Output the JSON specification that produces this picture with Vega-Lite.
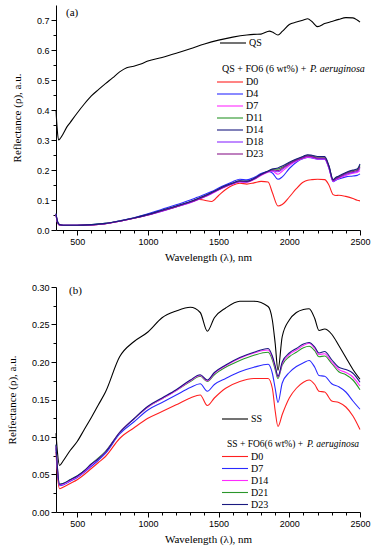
{
"$schema": "https://vega.github.io/schema/vega-lite/v6.json",
"padding": {"left": 6, "top": 5, "right": 4, "bottom": 4},
"config": {
 "view": {"stroke": null},
 "axis": {"domainColor": "black", "tickColor": "black", "labelColor": "black", "titleColor": "black", "labelFont": "Liberation Sans", "labelFontSize": 9, "titleFont": "Liberation Serif", "titleFontSize": 11, "titleFontWeight": "normal", "grid": false, "tickSize": 5, "labelPadding": 2, "labelFlush": false, "labelOverlap": false},
 "legend": {"labelFont": "Liberation Serif", "labelFontSize": 10, "titleFont": "Liberation Serif", "titleFontSize": 10, "titleFontWeight": "normal", "labelColor": "black", "titleColor": "black", "padding": 0, "symbolType": "M-3.25,0H3.25", "symbolSize": 64, "symbolStrokeWidth": 1.5, "symbolOffset": 3, "labelOffset": 11, "rowPadding": 2, "titlePadding": 3, "titleLimit": 300},
 "line": {"strokeWidth": 1.1, "interpolate": "monotone"},
 "concat": {"spacing": 21}
},
"resolve": {"scale": {"color": "independent", "stroke": "independent", "opacity": "independent"}, "legend": {"color": "independent", "stroke": "independent", "opacity": "independent"}},
"datasets": {
"qs": [
{"w":350,"k":"QS","r":0.40},{"w":358,"k":"QS","r":0.34},{"w":368,"k":"QS","r":0.30},{"w":380,"k":"QS","r":0.305},{"w":400,"k":"QS","r":0.32},{"w":425,"k":"QS","r":0.342},{"w":450,"k":"QS","r":0.358},{"w":500,"k":"QS","r":0.39},{"w":550,"k":"QS","r":0.42},{"w":600,"k":"QS","r":0.447},{"w":650,"k":"QS","r":0.468},{"w":700,"k":"QS","r":0.488},{"w":750,"k":"QS","r":0.507},{"w":800,"k":"QS","r":0.527},{"w":850,"k":"QS","r":0.541},{"w":900,"k":"QS","r":0.546},{"w":950,"k":"QS","r":0.553},{"w":1000,"k":"QS","r":0.563},{"w":1100,"k":"QS","r":0.575},{"w":1200,"k":"QS","r":0.589},{"w":1300,"k":"QS","r":0.604},{"w":1400,"k":"QS","r":0.620},{"w":1500,"k":"QS","r":0.633},{"w":1600,"k":"QS","r":0.643},{"w":1700,"k":"QS","r":0.650},{"w":1750,"k":"QS","r":0.652},{"w":1800,"k":"QS","r":0.653},{"w":1860,"k":"QS","r":0.663},{"w":1880,"k":"QS","r":0.660},{"w":1920,"k":"QS","r":0.650},{"w":1950,"k":"QS","r":0.662},{"w":2000,"k":"QS","r":0.685},{"w":2050,"k":"QS","r":0.693},{"w":2100,"k":"QS","r":0.700},{"w":2130,"k":"QS","r":0.704},{"w":2160,"k":"QS","r":0.695},{"w":2200,"k":"QS","r":0.678},{"w":2250,"k":"QS","r":0.688},{"w":2300,"k":"QS","r":0.695},{"w":2350,"k":"QS","r":0.702},{"w":2400,"k":"QS","r":0.708},{"w":2450,"k":"QS","r":0.707},{"w":2480,"k":"QS","r":0.700},{"w":2500,"k":"QS","r":0.693}
],
"qa": [
{"w":350,"s":"D0","r":0.050},{"w":360,"s":"D0","r":0.025},{"w":375,"s":"D0","r":0.016},{"w":400,"s":"D0","r":0.015},{"w":500,"s":"D0","r":0.015},{"w":600,"s":"D0","r":0.017},{"w":700,"s":"D0","r":0.021},{"w":800,"s":"D0","r":0.029},{"w":900,"s":"D0","r":0.039},{"w":1000,"s":"D0","r":0.051},{"w":1100,"s":"D0","r":0.064},{"w":1200,"s":"D0","r":0.078},{"w":1300,"s":"D0","r":0.093},{"w":1350,"s":"D0","r":0.103},{"w":1400,"s":"D0","r":0.099},{"w":1450,"s":"D0","r":0.095},{"w":1500,"s":"D0","r":0.115},{"w":1550,"s":"D0","r":0.135},{"w":1600,"s":"D0","r":0.149},{"w":1650,"s":"D0","r":0.156},{"w":1700,"s":"D0","r":0.153},{"w":1750,"s":"D0","r":0.157},{"w":1800,"s":"D0","r":0.162},{"w":1850,"s":"D0","r":0.160},{"w":1880,"s":"D0","r":0.125},{"w":1920,"s":"D0","r":0.080},{"w":1950,"s":"D0","r":0.085},{"w":2000,"s":"D0","r":0.110},{"w":2050,"s":"D0","r":0.138},{"w":2100,"s":"D0","r":0.160},{"w":2130,"s":"D0","r":0.166},{"w":2160,"s":"D0","r":0.168},{"w":2200,"s":"D0","r":0.169},{"w":2250,"s":"D0","r":0.168},{"w":2280,"s":"D0","r":0.150},{"w":2310,"s":"D0","r":0.118},{"w":2330,"s":"D0","r":0.115},{"w":2350,"s":"D0","r":0.116},{"w":2400,"s":"D0","r":0.112},{"w":2450,"s":"D0","r":0.105},{"w":2480,"s":"D0","r":0.099},{"w":2500,"s":"D0","r":0.097},
{"w":350,"s":"D4","r":0.050},{"w":360,"s":"D4","r":0.026},{"w":375,"s":"D4","r":0.017},{"w":400,"s":"D4","r":0.016},{"w":500,"s":"D4","r":0.016},{"w":600,"s":"D4","r":0.018},{"w":700,"s":"D4","r":0.022},{"w":800,"s":"D4","r":0.031},{"w":900,"s":"D4","r":0.041},{"w":1000,"s":"D4","r":0.054},{"w":1100,"s":"D4","r":0.069},{"w":1200,"s":"D4","r":0.084},{"w":1300,"s":"D4","r":0.100},{"w":1350,"s":"D4","r":0.109},{"w":1400,"s":"D4","r":0.118},{"w":1450,"s":"D4","r":0.128},{"w":1500,"s":"D4","r":0.140},{"w":1550,"s":"D4","r":0.151},{"w":1600,"s":"D4","r":0.161},{"w":1650,"s":"D4","r":0.169},{"w":1700,"s":"D4","r":0.167},{"w":1750,"s":"D4","r":0.175},{"w":1800,"s":"D4","r":0.188},{"w":1850,"s":"D4","r":0.195},{"w":1880,"s":"D4","r":0.190},{"w":1920,"s":"D4","r":0.169},{"w":1950,"s":"D4","r":0.177},{"w":2000,"s":"D4","r":0.205},{"w":2050,"s":"D4","r":0.226},{"w":2100,"s":"D4","r":0.238},{"w":2130,"s":"D4","r":0.242},{"w":2160,"s":"D4","r":0.240},{"w":2200,"s":"D4","r":0.236},{"w":2250,"s":"D4","r":0.236},{"w":2280,"s":"D4","r":0.206},{"w":2310,"s":"D4","r":0.161},{"w":2330,"s":"D4","r":0.166},{"w":2350,"s":"D4","r":0.170},{"w":2400,"s":"D4","r":0.177},{"w":2450,"s":"D4","r":0.180},{"w":2480,"s":"D4","r":0.182},{"w":2500,"s":"D4","r":0.187},
{"w":350,"s":"D7","r":0.052},{"w":360,"s":"D7","r":0.027},{"w":375,"s":"D7","r":0.017},{"w":400,"s":"D7","r":0.016},{"w":500,"s":"D7","r":0.016},{"w":600,"s":"D7","r":0.017},{"w":700,"s":"D7","r":0.021},{"w":800,"s":"D7","r":0.029},{"w":900,"s":"D7","r":0.039},{"w":1000,"s":"D7","r":0.050},{"w":1100,"s":"D7","r":0.063},{"w":1200,"s":"D7","r":0.077},{"w":1300,"s":"D7","r":0.091},{"w":1350,"s":"D7","r":0.100},{"w":1400,"s":"D7","r":0.110},{"w":1450,"s":"D7","r":0.121},{"w":1500,"s":"D7","r":0.133},{"w":1550,"s":"D7","r":0.144},{"w":1600,"s":"D7","r":0.153},{"w":1650,"s":"D7","r":0.160},{"w":1700,"s":"D7","r":0.159},{"w":1750,"s":"D7","r":0.168},{"w":1800,"s":"D7","r":0.182},{"w":1850,"s":"D7","r":0.193},{"w":1880,"s":"D7","r":0.196},{"w":1920,"s":"D7","r":0.186},{"w":1950,"s":"D7","r":0.196},{"w":2000,"s":"D7","r":0.215},{"w":2050,"s":"D7","r":0.229},{"w":2100,"s":"D7","r":0.239},{"w":2130,"s":"D7","r":0.243},{"w":2160,"s":"D7","r":0.241},{"w":2200,"s":"D7","r":0.237},{"w":2250,"s":"D7","r":0.237},{"w":2280,"s":"D7","r":0.207},{"w":2310,"s":"D7","r":0.162},{"w":2330,"s":"D7","r":0.168},{"w":2350,"s":"D7","r":0.172},{"w":2400,"s":"D7","r":0.182},{"w":2450,"s":"D7","r":0.189},{"w":2480,"s":"D7","r":0.192},{"w":2500,"s":"D7","r":0.198},
{"w":350,"s":"D11","r":0.054},{"w":360,"s":"D11","r":0.029},{"w":375,"s":"D11","r":0.018},{"w":400,"s":"D11","r":0.016},{"w":500,"s":"D11","r":0.016},{"w":600,"s":"D11","r":0.018},{"w":700,"s":"D11","r":0.022},{"w":800,"s":"D11","r":0.030},{"w":900,"s":"D11","r":0.040},{"w":1000,"s":"D11","r":0.051},{"w":1100,"s":"D11","r":0.065},{"w":1200,"s":"D11","r":0.079},{"w":1300,"s":"D11","r":0.094},{"w":1350,"s":"D11","r":0.103},{"w":1400,"s":"D11","r":0.113},{"w":1450,"s":"D11","r":0.124},{"w":1500,"s":"D11","r":0.136},{"w":1550,"s":"D11","r":0.147},{"w":1600,"s":"D11","r":0.156},{"w":1650,"s":"D11","r":0.163},{"w":1700,"s":"D11","r":0.162},{"w":1750,"s":"D11","r":0.171},{"w":1800,"s":"D11","r":0.185},{"w":1850,"s":"D11","r":0.196},{"w":1880,"s":"D11","r":0.202},{"w":1920,"s":"D11","r":0.203},{"w":1950,"s":"D11","r":0.209},{"w":2000,"s":"D11","r":0.223},{"w":2050,"s":"D11","r":0.235},{"w":2100,"s":"D11","r":0.244},{"w":2130,"s":"D11","r":0.249},{"w":2160,"s":"D11","r":0.247},{"w":2200,"s":"D11","r":0.243},{"w":2250,"s":"D11","r":0.243},{"w":2280,"s":"D11","r":0.213},{"w":2310,"s":"D11","r":0.167},{"w":2330,"s":"D11","r":0.175},{"w":2350,"s":"D11","r":0.178},{"w":2400,"s":"D11","r":0.190},{"w":2450,"s":"D11","r":0.198},{"w":2480,"s":"D11","r":0.201},{"w":2500,"s":"D11","r":0.215},
{"w":350,"s":"D18","r":0.052},{"w":360,"s":"D18","r":0.028},{"w":375,"s":"D18","r":0.017},{"w":400,"s":"D18","r":0.016},{"w":500,"s":"D18","r":0.016},{"w":600,"s":"D18","r":0.017},{"w":700,"s":"D18","r":0.021},{"w":800,"s":"D18","r":0.029},{"w":900,"s":"D18","r":0.039},{"w":1000,"s":"D18","r":0.050},{"w":1100,"s":"D18","r":0.063},{"w":1200,"s":"D18","r":0.077},{"w":1300,"s":"D18","r":0.092},{"w":1350,"s":"D18","r":0.101},{"w":1400,"s":"D18","r":0.111},{"w":1450,"s":"D18","r":0.122},{"w":1500,"s":"D18","r":0.134},{"w":1550,"s":"D18","r":0.145},{"w":1600,"s":"D18","r":0.154},{"w":1650,"s":"D18","r":0.161},{"w":1700,"s":"D18","r":0.160},{"w":1750,"s":"D18","r":0.169},{"w":1800,"s":"D18","r":0.183},{"w":1850,"s":"D18","r":0.194},{"w":1880,"s":"D18","r":0.198},{"w":1920,"s":"D18","r":0.194},{"w":1950,"s":"D18","r":0.202},{"w":2000,"s":"D18","r":0.219},{"w":2050,"s":"D18","r":0.231},{"w":2100,"s":"D18","r":0.241},{"w":2130,"s":"D18","r":0.245},{"w":2160,"s":"D18","r":0.243},{"w":2200,"s":"D18","r":0.238},{"w":2250,"s":"D18","r":0.238},{"w":2280,"s":"D18","r":0.209},{"w":2310,"s":"D18","r":0.163},{"w":2330,"s":"D18","r":0.170},{"w":2350,"s":"D18","r":0.174},{"w":2400,"s":"D18","r":0.185},{"w":2450,"s":"D18","r":0.192},{"w":2480,"s":"D18","r":0.195},{"w":2500,"s":"D18","r":0.205},
{"w":350,"s":"D23","r":0.053},{"w":360,"s":"D23","r":0.028},{"w":375,"s":"D23","r":0.017},{"w":400,"s":"D23","r":0.016},{"w":500,"s":"D23","r":0.016},{"w":600,"s":"D23","r":0.017},{"w":700,"s":"D23","r":0.021},{"w":800,"s":"D23","r":0.029},{"w":900,"s":"D23","r":0.039},{"w":1000,"s":"D23","r":0.050},{"w":1100,"s":"D23","r":0.064},{"w":1200,"s":"D23","r":0.078},{"w":1300,"s":"D23","r":0.093},{"w":1350,"s":"D23","r":0.102},{"w":1400,"s":"D23","r":0.112},{"w":1450,"s":"D23","r":0.123},{"w":1500,"s":"D23","r":0.135},{"w":1550,"s":"D23","r":0.146},{"w":1600,"s":"D23","r":0.155},{"w":1650,"s":"D23","r":0.162},{"w":1700,"s":"D23","r":0.161},{"w":1750,"s":"D23","r":0.170},{"w":1800,"s":"D23","r":0.184},{"w":1850,"s":"D23","r":0.195},{"w":1880,"s":"D23","r":0.200},{"w":1920,"s":"D23","r":0.198},{"w":1950,"s":"D23","r":0.206},{"w":2000,"s":"D23","r":0.221},{"w":2050,"s":"D23","r":0.233},{"w":2100,"s":"D23","r":0.242},{"w":2130,"s":"D23","r":0.247},{"w":2160,"s":"D23","r":0.245},{"w":2200,"s":"D23","r":0.240},{"w":2250,"s":"D23","r":0.240},{"w":2280,"s":"D23","r":0.211},{"w":2310,"s":"D23","r":0.165},{"w":2330,"s":"D23","r":0.172},{"w":2350,"s":"D23","r":0.176},{"w":2400,"s":"D23","r":0.188},{"w":2450,"s":"D23","r":0.195},{"w":2480,"s":"D23","r":0.198},{"w":2500,"s":"D23","r":0.210},
{"w":350,"s":"D14","r":0.055},{"w":360,"s":"D14","r":0.030},{"w":375,"s":"D14","r":0.018},{"w":400,"s":"D14","r":0.016},{"w":500,"s":"D14","r":0.016},{"w":600,"s":"D14","r":0.018},{"w":700,"s":"D14","r":0.022},{"w":800,"s":"D14","r":0.030},{"w":900,"s":"D14","r":0.040},{"w":1000,"s":"D14","r":0.052},{"w":1100,"s":"D14","r":0.066},{"w":1200,"s":"D14","r":0.080},{"w":1300,"s":"D14","r":0.095},{"w":1350,"s":"D14","r":0.104},{"w":1400,"s":"D14","r":0.114},{"w":1450,"s":"D14","r":0.125},{"w":1500,"s":"D14","r":0.137},{"w":1550,"s":"D14","r":0.148},{"w":1600,"s":"D14","r":0.157},{"w":1650,"s":"D14","r":0.164},{"w":1700,"s":"D14","r":0.163},{"w":1750,"s":"D14","r":0.172},{"w":1800,"s":"D14","r":0.186},{"w":1850,"s":"D14","r":0.197},{"w":1880,"s":"D14","r":0.203},{"w":1920,"s":"D14","r":0.207},{"w":1950,"s":"D14","r":0.213},{"w":2000,"s":"D14","r":0.226},{"w":2050,"s":"D14","r":0.237},{"w":2100,"s":"D14","r":0.246},{"w":2130,"s":"D14","r":0.251},{"w":2160,"s":"D14","r":0.249},{"w":2200,"s":"D14","r":0.245},{"w":2250,"s":"D14","r":0.245},{"w":2280,"s":"D14","r":0.215},{"w":2310,"s":"D14","r":0.168},{"w":2330,"s":"D14","r":0.176},{"w":2350,"s":"D14","r":0.180},{"w":2400,"s":"D14","r":0.192},{"w":2450,"s":"D14","r":0.200},{"w":2480,"s":"D14","r":0.203},{"w":2500,"s":"D14","r":0.220}
],
"ss": [
{"w":350,"k":"SS","r":0.105},{"w":360,"k":"SS","r":0.080},{"w":375,"k":"SS","r":0.062},{"w":400,"k":"SS","r":0.068},{"w":450,"k":"SS","r":0.082},{"w":500,"k":"SS","r":0.094},{"w":550,"k":"SS","r":0.110},{"w":600,"k":"SS","r":0.126},{"w":650,"k":"SS","r":0.143},{"w":700,"k":"SS","r":0.160},{"w":800,"k":"SS","r":0.207},{"w":900,"k":"SS","r":0.227},{"w":1000,"k":"SS","r":0.240},{"w":1100,"k":"SS","r":0.259},{"w":1200,"k":"SS","r":0.268},{"w":1300,"k":"SS","r":0.273},{"w":1370,"k":"SS","r":0.266},{"w":1420,"k":"SS","r":0.241},{"w":1470,"k":"SS","r":0.259},{"w":1550,"k":"SS","r":0.272},{"w":1650,"k":"SS","r":0.281},{"w":1750,"k":"SS","r":0.281},{"w":1850,"k":"SS","r":0.274},{"w":1880,"k":"SS","r":0.256},{"w":1900,"k":"SS","r":0.225},{"w":1920,"k":"SS","r":0.189},{"w":1950,"k":"SS","r":0.234},{"w":2000,"k":"SS","r":0.256},{"w":2050,"k":"SS","r":0.266},{"w":2100,"k":"SS","r":0.270},{"w":2140,"k":"SS","r":0.271},{"w":2180,"k":"SS","r":0.258},{"w":2210,"k":"SS","r":0.242},{"w":2250,"k":"SS","r":0.244},{"w":2300,"k":"SS","r":0.237},{"w":2350,"k":"SS","r":0.222},{"w":2400,"k":"SS","r":0.206},{"w":2450,"k":"SS","r":0.190},{"w":2500,"k":"SS","r":0.177}
],
"qb": [
{"w":350,"s":"D0","r":0.080},{"w":360,"s":"D0","r":0.050},{"w":375,"s":"D0","r":0.031},{"w":400,"s":"D0","r":0.033},{"w":450,"s":"D0","r":0.038},{"w":500,"s":"D0","r":0.043},{"w":550,"s":"D0","r":0.050},{"w":600,"s":"D0","r":0.058},{"w":650,"s":"D0","r":0.066},{"w":700,"s":"D0","r":0.074},{"w":800,"s":"D0","r":0.098},{"w":900,"s":"D0","r":0.112},{"w":1000,"s":"D0","r":0.125},{"w":1100,"s":"D0","r":0.134},{"w":1200,"s":"D0","r":0.143},{"w":1300,"s":"D0","r":0.152},{"w":1370,"s":"D0","r":0.156},{"w":1420,"s":"D0","r":0.142},{"w":1470,"s":"D0","r":0.152},{"w":1550,"s":"D0","r":0.165},{"w":1650,"s":"D0","r":0.174},{"w":1750,"s":"D0","r":0.178},{"w":1850,"s":"D0","r":0.178},{"w":1880,"s":"D0","r":0.165},{"w":1900,"s":"D0","r":0.135},{"w":1920,"s":"D0","r":0.114},{"w":1950,"s":"D0","r":0.130},{"w":2000,"s":"D0","r":0.152},{"w":2050,"s":"D0","r":0.165},{"w":2100,"s":"D0","r":0.173},{"w":2140,"s":"D0","r":0.176},{"w":2180,"s":"D0","r":0.170},{"w":2210,"s":"D0","r":0.161},{"w":2250,"s":"D0","r":0.160},{"w":2300,"s":"D0","r":0.148},{"w":2350,"s":"D0","r":0.146},{"w":2400,"s":"D0","r":0.140},{"w":2450,"s":"D0","r":0.128},{"w":2500,"s":"D0","r":0.110},
{"w":350,"s":"D7","r":0.085},{"w":360,"s":"D7","r":0.055},{"w":375,"s":"D7","r":0.035},{"w":400,"s":"D7","r":0.036},{"w":450,"s":"D7","r":0.041},{"w":500,"s":"D7","r":0.046},{"w":550,"s":"D7","r":0.053},{"w":600,"s":"D7","r":0.061},{"w":650,"s":"D7","r":0.069},{"w":700,"s":"D7","r":0.078},{"w":800,"s":"D7","r":0.104},{"w":900,"s":"D7","r":0.120},{"w":1000,"s":"D7","r":0.136},{"w":1100,"s":"D7","r":0.146},{"w":1200,"s":"D7","r":0.156},{"w":1300,"s":"D7","r":0.166},{"w":1370,"s":"D7","r":0.171},{"w":1420,"s":"D7","r":0.161},{"w":1470,"s":"D7","r":0.170},{"w":1550,"s":"D7","r":0.178},{"w":1650,"s":"D7","r":0.187},{"w":1750,"s":"D7","r":0.193},{"w":1850,"s":"D7","r":0.197},{"w":1880,"s":"D7","r":0.185},{"w":1900,"s":"D7","r":0.165},{"w":1920,"s":"D7","r":0.146},{"w":1950,"s":"D7","r":0.172},{"w":2000,"s":"D7","r":0.186},{"w":2050,"s":"D7","r":0.194},{"w":2100,"s":"D7","r":0.199},{"w":2140,"s":"D7","r":0.202},{"w":2180,"s":"D7","r":0.193},{"w":2210,"s":"D7","r":0.182},{"w":2250,"s":"D7","r":0.181},{"w":2300,"s":"D7","r":0.171},{"w":2350,"s":"D7","r":0.167},{"w":2400,"s":"D7","r":0.160},{"w":2450,"s":"D7","r":0.148},{"w":2500,"s":"D7","r":0.137},
{"w":350,"s":"D21","r":0.089},{"w":360,"s":"D21","r":0.059},{"w":375,"s":"D21","r":0.037},{"w":400,"s":"D21","r":0.038},{"w":450,"s":"D21","r":0.043},{"w":500,"s":"D21","r":0.048},{"w":550,"s":"D21","r":0.055},{"w":600,"s":"D21","r":0.064},{"w":650,"s":"D21","r":0.072},{"w":700,"s":"D21","r":0.081},{"w":800,"s":"D21","r":0.106},{"w":900,"s":"D21","r":0.124},{"w":1000,"s":"D21","r":0.140},{"w":1100,"s":"D21","r":0.151},{"w":1200,"s":"D21","r":0.162},{"w":1300,"s":"D21","r":0.174},{"w":1370,"s":"D21","r":0.181},{"w":1420,"s":"D21","r":0.174},{"w":1470,"s":"D21","r":0.183},{"w":1550,"s":"D21","r":0.193},{"w":1650,"s":"D21","r":0.202},{"w":1750,"s":"D21","r":0.209},{"w":1850,"s":"D21","r":0.213},{"w":1880,"s":"D21","r":0.203},{"w":1900,"s":"D21","r":0.190},{"w":1920,"s":"D21","r":0.178},{"w":1950,"s":"D21","r":0.196},{"w":2000,"s":"D21","r":0.207},{"w":2050,"s":"D21","r":0.213},{"w":2100,"s":"D21","r":0.219},{"w":2140,"s":"D21","r":0.221},{"w":2180,"s":"D21","r":0.215},{"w":2210,"s":"D21","r":0.207},{"w":2250,"s":"D21","r":0.208},{"w":2300,"s":"D21","r":0.198},{"w":2350,"s":"D21","r":0.187},{"w":2400,"s":"D21","r":0.183},{"w":2450,"s":"D21","r":0.176},{"w":2500,"s":"D21","r":0.163},
{"w":350,"s":"D14","r":0.088},{"w":360,"s":"D14","r":0.058},{"w":375,"s":"D14","r":0.036},{"w":400,"s":"D14","r":0.037},{"w":450,"s":"D14","r":0.042},{"w":500,"s":"D14","r":0.047},{"w":550,"s":"D14","r":0.054},{"w":600,"s":"D14","r":0.063},{"w":650,"s":"D14","r":0.071},{"w":700,"s":"D14","r":0.080},{"w":800,"s":"D14","r":0.106},{"w":900,"s":"D14","r":0.124},{"w":1000,"s":"D14","r":0.140},{"w":1100,"s":"D14","r":0.151},{"w":1200,"s":"D14","r":0.162},{"w":1300,"s":"D14","r":0.175},{"w":1370,"s":"D14","r":0.182},{"w":1420,"s":"D14","r":0.175},{"w":1470,"s":"D14","r":0.185},{"w":1550,"s":"D14","r":0.195},{"w":1650,"s":"D14","r":0.205},{"w":1750,"s":"D14","r":0.212},{"w":1850,"s":"D14","r":0.216},{"w":1880,"s":"D14","r":0.206},{"w":1900,"s":"D14","r":0.193},{"w":1920,"s":"D14","r":0.180},{"w":1950,"s":"D14","r":0.198},{"w":2000,"s":"D14","r":0.210},{"w":2050,"s":"D14","r":0.216},{"w":2100,"s":"D14","r":0.222},{"w":2140,"s":"D14","r":0.225},{"w":2180,"s":"D14","r":0.218},{"w":2210,"s":"D14","r":0.210},{"w":2250,"s":"D14","r":0.211},{"w":2300,"s":"D14","r":0.200},{"w":2350,"s":"D14","r":0.190},{"w":2400,"s":"D14","r":0.186},{"w":2450,"s":"D14","r":0.180},{"w":2500,"s":"D14","r":0.168},
{"w":350,"s":"D23","r":0.090},{"w":360,"s":"D23","r":0.060},{"w":375,"s":"D23","r":0.037},{"w":400,"s":"D23","r":0.038},{"w":450,"s":"D23","r":0.043},{"w":500,"s":"D23","r":0.048},{"w":550,"s":"D23","r":0.055},{"w":600,"s":"D23","r":0.064},{"w":650,"s":"D23","r":0.071},{"w":700,"s":"D23","r":0.080},{"w":800,"s":"D23","r":0.106},{"w":900,"s":"D23","r":0.124},{"w":1000,"s":"D23","r":0.141},{"w":1100,"s":"D23","r":0.152},{"w":1200,"s":"D23","r":0.163},{"w":1300,"s":"D23","r":0.176},{"w":1370,"s":"D23","r":0.183},{"w":1420,"s":"D23","r":0.176},{"w":1470,"s":"D23","r":0.186},{"w":1550,"s":"D23","r":0.196},{"w":1650,"s":"D23","r":0.206},{"w":1750,"s":"D23","r":0.213},{"w":1850,"s":"D23","r":0.218},{"w":1880,"s":"D23","r":0.208},{"w":1900,"s":"D23","r":0.195},{"w":1920,"s":"D23","r":0.181},{"w":1950,"s":"D23","r":0.200},{"w":2000,"s":"D23","r":0.212},{"w":2050,"s":"D23","r":0.218},{"w":2100,"s":"D23","r":0.224},{"w":2140,"s":"D23","r":0.226},{"w":2180,"s":"D23","r":0.220},{"w":2210,"s":"D23","r":0.212},{"w":2250,"s":"D23","r":0.214},{"w":2300,"s":"D23","r":0.203},{"w":2350,"s":"D23","r":0.193},{"w":2400,"s":"D23","r":0.190},{"w":2450,"s":"D23","r":0.185},{"w":2500,"s":"D23","r":0.173}
]
},
"vconcat": [
{
 "width": 304, "height": 225,
 "title": {"text": "(a)", "anchor": "start", "frame": "group", "font": "Liberation Serif", "fontSize": 11, "fontWeight": "normal", "color": "black", "offset": 0, "dx": 10, "dy": 13},
 "layer": [
  {"data": {"name": "qs"}, "mark": {"type": "line"},
   "encoding": {
    "x": {"field": "w", "type": "quantitative", "scale": {"domain": [350, 2500], "nice": false, "zero": false}, "axis": {"title": "Wavelength (λ), nm", "orient": "bottom", "values": [500, 1000, 1500, 2000, 2500], "format": "d", "titlePadding": 5}},
    "y": {"field": "r", "type": "quantitative", "scale": {"domain": [0, 0.75], "nice": false}, "axis": {"title": "Reflectance (ρ), a.u.", "orient": "left", "values": [0, 0.1, 0.2, 0.3, 0.4, 0.5, 0.6, 0.7], "format": ".1f", "titlePadding": 14}},
    "stroke": {"field": "k", "type": "nominal", "scale": {"domain": ["QS"], "range": ["#000000"]}, "legend": {"title": null, "orient": "none", "legendX": 169, "legendY": 33}}
   }},
  {"data": {"name": "qa"}, "mark": {"type": "line"},
   "encoding": {
    "x": {"field": "w", "type": "quantitative", "axis": {"title": null, "orient": "bottom", "labels": false, "domain": false, "tickSize": 3, "values": [400, 600, 700, 800, 900, 1100, 1200, 1300, 1400, 1600, 1700, 1800, 1900, 2100, 2200, 2300, 2400]}},
    "y": {"field": "r", "type": "quantitative", "axis": {"title": null, "orient": "left", "labels": false, "domain": false, "tickSize": 3, "values": [0.05, 0.15, 0.25, 0.35, 0.45, 0.55, 0.65]}},
    "color": {"field": "s", "type": "nominal", "scale": {"domain": ["D0", "D4", "D7", "D11", "D14", "D18", "D23"], "range": ["#ff2020", "#2a2aff", "#ff2aff", "#2a962a", "#1a1a80", "#8a2aff", "#8a1a8a"]}, "legend": {"title": "QS + FO6 (6 wt%) +", "orient": "none", "legendX": 166, "legendY": 59}},
    "opacity": {"field": "s", "type": "ordinal", "scale": {"type": "point", "domain": ["D23", "D18", "D14", "D11", "D7", "D4", "D0"], "range": [1, 1]}, "legend": {"title": "P. aeruginosa", "titleFontStyle": "italic", "symbolStrokeWidth": 0, "symbolSize": 0, "symbolStrokeColor": "transparent", "labelOpacity": 0, "orient": "none", "legendX": 254, "legendY": 59}}
   }}
 ],
 "resolve": {"axis": {"x": "independent", "y": "independent"}}
},
{
 "width": 304, "height": 225,
 "title": {"text": "(b)", "anchor": "start", "frame": "group", "font": "Liberation Serif", "fontSize": 11, "fontWeight": "normal", "color": "black", "offset": 0, "dx": 13, "dy": 13},
 "layer": [
  {"data": {"name": "ss"}, "mark": {"type": "line"},
   "encoding": {
    "x": {"field": "w", "type": "quantitative", "scale": {"domain": [350, 2500], "nice": false, "zero": false}, "axis": {"title": "Wavelength (λ), nm", "orient": "bottom", "values": [500, 1000, 1500, 2000, 2500], "format": "d", "titlePadding": 5}},
    "y": {"field": "r", "type": "quantitative", "scale": {"domain": [0, 0.30], "nice": false}, "axis": {"title": "Relfectance (ρ), a.u.", "orient": "left", "values": [0, 0.05, 0.1, 0.15, 0.2, 0.25, 0.3], "format": ".2f", "titlePadding": 14}},
    "stroke": {"field": "k", "type": "nominal", "scale": {"domain": ["SS"], "range": ["#000000"]}, "legend": {"title": null, "orient": "none", "legendX": 171, "legendY": 127}}
   }},
  {"data": {"name": "qb"}, "mark": {"type": "line"},
   "encoding": {
    "x": {"field": "w", "type": "quantitative", "axis": {"title": null, "orient": "bottom", "labels": false, "domain": false, "tickSize": 3, "values": [400, 600, 700, 800, 900, 1100, 1200, 1300, 1400, 1600, 1700, 1800, 1900, 2100, 2200, 2300, 2400]}},
    "y": {"field": "r", "type": "quantitative", "axis": {"title": null, "orient": "left", "labels": false, "domain": false, "tickSize": 3, "values": [0.025, 0.075, 0.125, 0.175, 0.225, 0.275]}},
    "color": {"field": "s", "type": "nominal", "scale": {"domain": ["D0", "D7", "D14", "D21", "D23"], "range": ["#ff2020", "#2a2aff", "#ff2aff", "#2a962a", "#1a1a80"]}, "legend": {"title": "SS + FO6(6 wt%) +", "titleFontSize": 9.5, "orient": "none", "legendX": 171, "legendY": 152}},
    "opacity": {"field": "s", "type": "ordinal", "scale": {"type": "point", "domain": ["D23", "D21", "D14", "D7", "D0"], "range": [1, 1]}, "legend": {"title": "P. aeruginosa", "titleFontSize": 9.5, "titleFontStyle": "italic", "symbolStrokeWidth": 0, "symbolSize": 0, "symbolStrokeColor": "transparent", "labelOpacity": 0, "orient": "none", "legendX": 251, "legendY": 152}}
   }}
 ],
 "resolve": {"axis": {"x": "independent", "y": "independent"}}
}
]
}
